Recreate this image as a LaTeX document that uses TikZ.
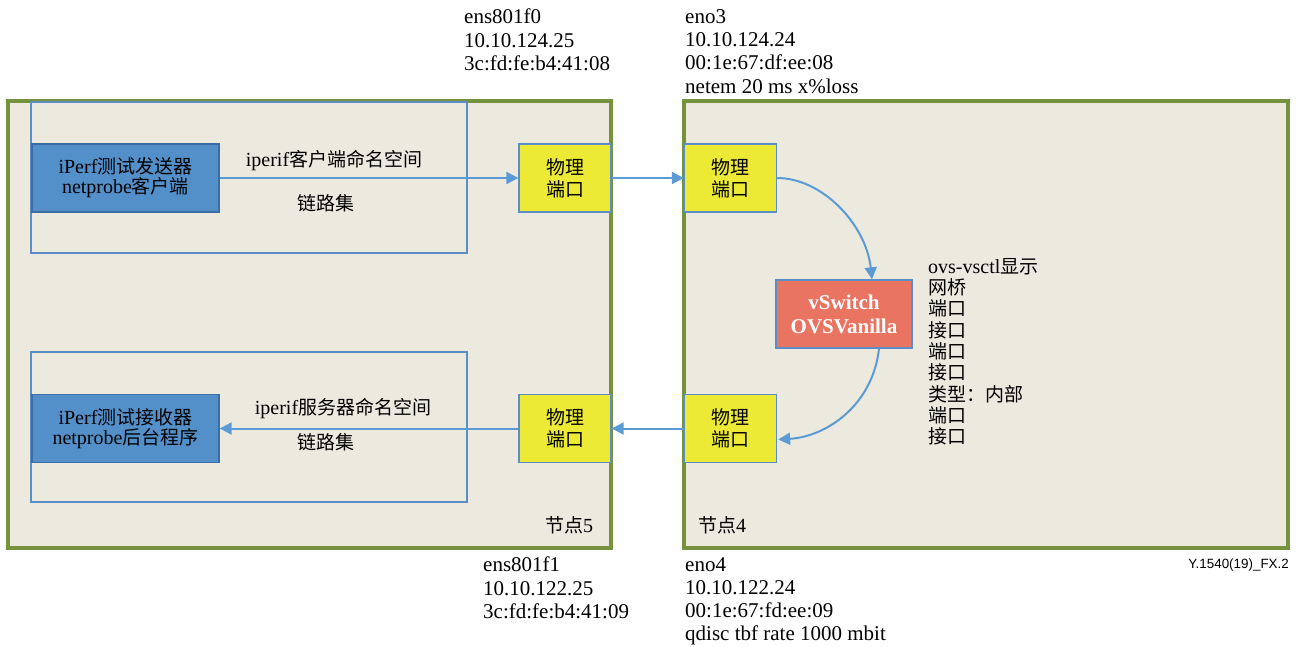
\documentclass[tikz,border=0pt]{standalone}
\usepackage{fontspec}
\setmainfont{Liberation Serif}
\newfontfamily\cjk[Scale=0.95]{Noto Sans CJK SC}
\newfontfamily\figsans{Liberation Sans}
\usetikzlibrary{arrows.meta,calc}
\definecolor{beige}{HTML}{ECE9DF}
\definecolor{grn}{HTML}{76923C}
\definecolor{nsblue}{HTML}{5B8DC6}
\definecolor{boxblue}{HTML}{5390CA}
\definecolor{boxblueedge}{HTML}{3C6EA6}
\definecolor{ylw}{HTML}{EDEA36}
\definecolor{salmon}{HTML}{EA7462}
\definecolor{arrblue}{HTML}{5B9BD5}
\newcommand\zhc[1]{{\cjk #1}}
\tikzset{
  hostframe/.style={draw=grn, line width=3.5pt, fill=beige, inner sep=0pt},
  nsframe/.style={draw=nsblue, line width=1.3pt, inner sep=0pt},
  appbox/.style={draw=boxblueedge, line width=1.3pt, fill=boxblue, minimum width=187pt, minimum height=68pt, align=center, font=\fontsize{20}{20}\selectfont, inner sep=0pt},
  portbox/.style={draw=nsblue, line width=1.3pt, fill=ylw, minimum width=92pt, minimum height=68pt, align=center, font=\fontsize{20}{22}\selectfont, inner sep=0pt},
  swbox/.style={draw=nsblue, line width=1.3pt, fill=salmon, minimum width=136pt, minimum height=68pt, align=center, text=white, font=\fontsize{21}{24}\selectfont\bfseries, inner sep=0pt},
  lbl/.style={font=\fontsize{20}{23}\selectfont, inner sep=0pt},
  info/.style={font=\fontsize{21}{23.3}\selectfont, align=left, anchor=north west, inner sep=0pt},
  arr/.style={draw=arrblue, line width=2pt, -{Triangle[length=12pt,width=12pt]}},
}
\begin{document}
\begin{tikzpicture}[x=1pt,y=-1pt]
\useasboundingbox (0,0) rectangle (1298,647);
% host frames
\node[hostframe, minimum width=603pt, minimum height=447pt] (n5) at (309.5,324.5) {};
\node[hostframe, minimum width=604pt, minimum height=447pt] (n4) at (986,324.5) {};
% namespaces
\node[nsframe, minimum width=436pt, minimum height=151pt] (ns1) at (249,177.5) {};
\node[nsframe, minimum width=436pt, minimum height=150pt] (ns2) at (249,427) {};
% apps
\node[appbox] (snd) at (125.5,178) {iPerf\zhc{测试发送器}\\netprobe\zhc{客户端}};
\node[appbox] (rcv) at (125.5,428.5) {iPerf\zhc{测试接收器}\\netprobe\zhc{后台程序}};
% ports
\node[portbox] (p1) at (565,178) {\zhc{物理}\\\zhc{端口}};
\node[portbox] (p2) at (730.5,178) {\zhc{物理}\\\zhc{端口}};
\node[portbox] (p3) at (565,428.5) {\zhc{物理}\\\zhc{端口}};
\node[portbox] (p4) at (730.5,428.5) {\zhc{物理}\\\zhc{端口}};
% switch
\node[swbox] (vs) at (844,314) {vSwitch\\OVSVanilla};
% labels
\node[lbl] (l1) at (334,161) {iperif\zhc{客户端命名空间}};
\node[lbl] (l2) at (326,203) {\zhc{链路集}};
\node[lbl] (l3) at (343,409) {iperif\zhc{服务器命名空间}};
\node[lbl] (l4) at (326,442) {\zhc{链路集}};
\node[lbl] (k5) at (569,525) {\zhc{节点}5};
\node[lbl] (k4) at (722,525) {\zhc{节点}4};
% info texts
\node[info] (i1) at (464,9) {ens801f0\\10.10.124.25\\3c:fd:fe:b4:41:08};
\node[info] (i2) at (685,9) {eno3\\10.10.124.24\\00:1e:67:df:ee:08\\netem 20 ms x\%loss};
\node[info] (i3) at (483,557) {ens801f1\\10.10.122.25\\3c:fd:fe:b4:41:09};
\node[info] (i4) at (685,557) {eno4\\10.10.122.24\\00:1e:67:fd:ee:09\\qdisc tbf rate 1000 mbit};
\node[info, font=\fontsize{20}{21.3}\selectfont] (ovs) at (928,258) {ovs-vsctl\zhc{显示}\\\zhc{网桥}\\\zhc{端口}\\\zhc{接口}\\\zhc{端口}\\\zhc{接口}\\\zhc{类型：内部}\\\zhc{端口}\\\zhc{接口}};
\node[anchor=east, inner sep=0pt, font=\figsans\fontsize{13.4}{15}\selectfont] (fig) at (1289,565) {Y.1540(19)\_FX.2};
% connectors
\draw[arr] (snd.east) -- (p1.west);
\draw[arr] (p1.east) -- (p2.west);
\draw[arr] (p4.west) -- (p3.east);
\draw[arr] (p3.west) -- (rcv.east);
\draw[arr] (p2.east) .. controls +(45,0) and +(-6,-55) .. ($(vs.north)+(28,0)$);
\draw[arr] ($(vs.south)+(35,0)$) .. controls +(-6,55) and +(50,-3) .. ($(p4.east)+(1,11)$);
\end{tikzpicture}
\end{document}
